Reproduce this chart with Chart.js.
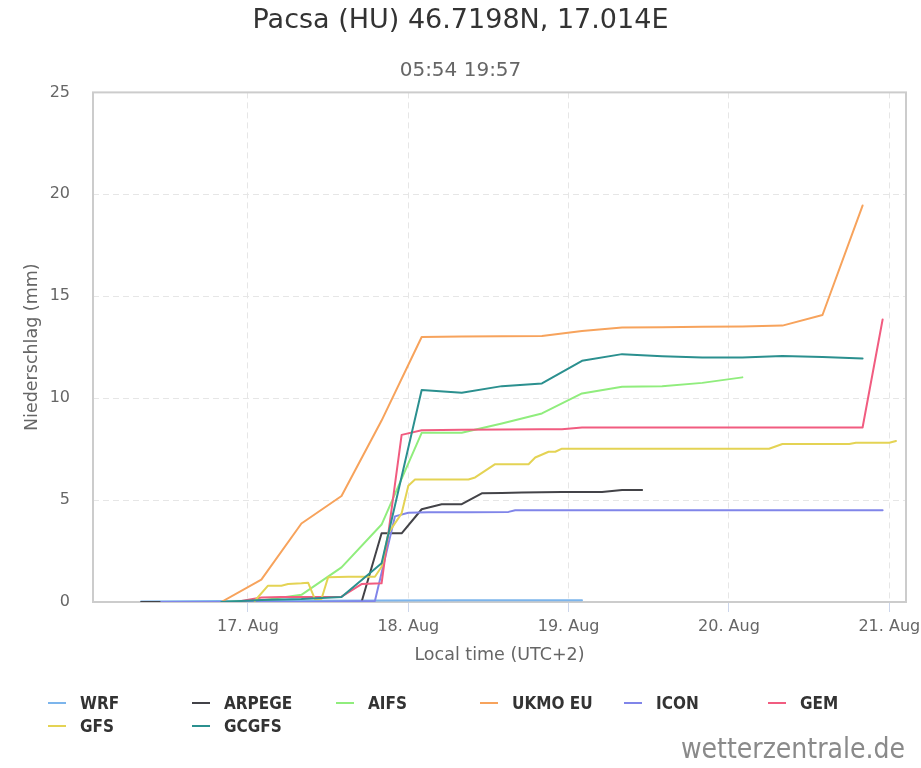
<!DOCTYPE html>
<html>
<head>
<meta charset="utf-8">
<title>Pacsa (HU) Niederschlag</title>
<script src="https://cdn.jsdelivr.net/npm/chart.js@4.4.0/dist/chart.umd.min.js"></script>
<style>
  html, body { margin: 0; padding: 0; background: #fff; overflow: hidden; }
  #wrap { position: relative; width: 921px; height: 768px; }
  #legend { position: absolute; left: 48px; top: 692px; width: 870px;
            font-family: "DejaVu Sans Condensed", "DejaVu Sans", sans-serif;
            font-weight: bold; font-size: 17px; color: #333; }
  .item { position: absolute; height: 22px; line-height: 22px; white-space: nowrap; }
  .item i { position: absolute; left: 0; top: 10px; width: 18px; height: 2px; }
  .item span { position: absolute; left: 32px; }
  #brand { position: absolute; right: 16px; top: 734px; line-height: 30px;
           font-family: "DejaVu Sans Condensed", "DejaVu Sans", sans-serif;
           font-size: 28px; color: #8a8a8a; }
</style>
</head>
<body>
<div id="wrap">
  <canvas id="rainChart" width="921" height="768"></canvas>
  <div id="legend"></div>
  <div id="brand">wetterzentrale.de</div>
</div>
<script>
// Stunden ab 16. Aug 00:00 Ortszeit, Niederschlag kumuliert in mm
const wrf = [[8, 0.03], [20, 0.05], [32, 0.06], [44, 0.07], [56, 0.08], [74, 0.08]];
const arpege = [[8, 0], [11, 0], [41, 0], [44, 3.37], [47, 3.37], [50, 4.55], [53, 4.8],
  [56, 4.8], [59, 5.33], [62, 5.35], [65, 5.37], [68, 5.39], [71, 5.4], [74, 5.4], [77, 5.4],
  [80, 5.49], [83, 5.49]];
const aifs = [[20, 0], [26, 0.08], [32, 0.35], [38, 1.7], [44, 3.8], [50, 8.3], [56, 8.3],
  [62, 8.76], [68, 9.25], [74, 10.23], [80, 10.56], [86, 10.58], [92, 10.75], [98, 11.02]];
const ukmo = [[20, 0], [26, 1.1], [32, 3.85], [38, 5.2], [44, 8.9], [50, 13.0], [56, 13.02],
  [62, 13.04], [68, 13.05], [74, 13.3], [80, 13.47], [86, 13.48], [92, 13.5], [98, 13.52],
  [104, 13.56], [110, 14.08], [116, 19.45]];
const icon = [[11, 0], [20, 0], [32, 0], [43, 0.05], [46, 4.2], [48, 4.38], [51, 4.4], [57, 4.4],
  [63, 4.42], [64, 4.5], [72, 4.5], [84, 4.5], [96, 4.5], [108, 4.5], [119, 4.5]];
const gem = [[23, 0.05], [26, 0.22], [29, 0.24], [32, 0.25], [35, 0.25], [38, 0.26], [41, 0.88],
  [44, 0.92], [47, 8.2], [50, 8.43], [56, 8.45], [62, 8.46], [68, 8.47], [71, 8.47], [74, 8.56],
  [80, 8.56], [92, 8.56], [104, 8.56], [116, 8.56], [119, 13.86]];
const gfs = [[25, 0.05], [27, 0.8], [29, 0.8], [30, 0.88], [32, 0.92], [33, 0.95], [34, 0.15],
  [35, 0.15], [36, 1.22], [39, 1.24], [43, 1.24], [44, 1.73], [45, 3.37], [47, 4.35], [48, 5.7],
  [49, 6.01], [57, 6.01], [58, 6.11], [61, 6.76], [66, 6.76], [67, 7.09], [69, 7.37], [70, 7.37],
  [71, 7.52], [102, 7.52], [104, 7.75], [114, 7.75], [115, 7.81], [120, 7.81], [121, 7.9]];
const gcgfs = [[20, 0], [26, 0.1], [32, 0.15], [38, 0.25], [44, 1.9], [50, 10.4], [56, 10.26],
  [62, 10.59], [68, 10.72], [74, 11.83], [80, 12.16], [86, 12.06], [92, 12.0], [98, 12.0],
  [104, 12.07], [110, 12.02], [116, 11.95]];

const modelNames = ['WRF', 'ARPEGE', 'AIFS', 'UKMO EU', 'ICON', 'GEM', 'GFS', 'GCGFS'];
const modelData = [wrf, arpege, aifs, ukmo, icon, gem, gfs, gcgfs];
const modelColors = ['#7cb5ec', '#434348', '#90ed7d', '#f7a35c', '#8085e9', '#f15c80', '#e4d354', '#2b908f'];

const dayTicks = [24, 48, 72, 96, 120];
const dayLabels = ['17. Aug', '18. Aug', '19. Aug', '20. Aug', '21. Aug'];
const mmTicks = [0, 5, 10, 15, 20, 25];

const FONT = '"DejaVu Sans", sans-serif';

// Rahmen um die Plotfläche
const plotBorder = {
    id: 'plotBorder',
    beforeDatasetsDraw(chart) {
        const { ctx, chartArea: a } = chart;
        ctx.save();
        ctx.strokeStyle = '#cccccc';
        ctx.lineWidth = 2;
        ctx.strokeRect(a.left, a.top, a.right - a.left, a.bottom - a.top);
        ctx.restore();
    }
};

document.addEventListener('DOMContentLoaded', () => {
    const datasets = modelNames.map((name, i) => ({
        label: name,
        data: modelData[i].map(p => ({ x: p[0], y: p[1] })),
        borderColor: modelColors[i],
        backgroundColor: modelColors[i],
        borderWidth: 2,
        pointRadius: 0,
        fill: false,
        tension: 0,
        borderJoinStyle: 'round',
        borderCapStyle: 'round',
        order: modelNames.length - i
    }));

    const ctx = document.getElementById('rainChart').getContext('2d');
    const chart = new Chart(ctx, {
        type: 'line',
        data: { datasets },
        plugins: [plotBorder],
        options: {
            responsive: false,
            animation: false,
            layout: { padding: { left: 15, right: 15, top: 0, bottom: 96 } },
            plugins: {
                legend: { display: false },
                tooltip: { enabled: false },
                title: {
                    display: true,
                    text: 'Pacsa (HU) 46.7198N, 17.014E',
                    color: '#333333',
                    font: { family: FONT, size: 27, weight: 'normal' },
                    padding: { top: 5, bottom: 21 }
                },
                subtitle: {
                    display: true,
                    text: '05:54 19:57',
                    color: '#666666',
                    font: { family: FONT, size: 20, weight: 'normal' },
                    padding: { top: 0, bottom: 10 }
                }
            },
            scales: {
                x: {
                    type: 'linear',
                    min: 0.8,
                    max: 122.5,
                    afterFit: s => { s.height = 70; s.paddingLeft = 0; s.paddingRight = 0; },
                    afterBuildTicks: s => { s.ticks = dayTicks.map(v => ({ value: v })); },
                    ticks: {
                        color: '#666666',
                        font: { family: FONT, size: 16 },
                        padding: 5,
                        maxRotation: 0,
                        callback: v => dayLabels[dayTicks.indexOf(v)]
                    },
                    grid: {
                        color: '#e6e6e6',
                        tickColor: '#ccd6eb',
                        tickLength: 10,
                        tickBorderDash: []
                    },
                    border: { display: false, dash: [6, 4] },
                    title: {
                        display: true,
                        text: 'Local time (UTC+2)',
                        color: '#666666',
                        font: { family: FONT, size: 17.5 },
                        padding: { top: 0, bottom: 6 }
                    }
                },
                y: {
                    min: 0,
                    max: 25,
                    afterFit: s => { s.width = 78; },
                    afterBuildTicks: s => { s.ticks = mmTicks.map(v => ({ value: v })); },
                    ticks: {
                        color: '#666666',
                        font: { family: FONT, size: 16 },
                        padding: 23
                    },
                    grid: { color: '#e6e6e6', drawTicks: false },
                    border: { display: false, dash: [6, 4] },
                    title: {
                        display: true,
                        text: 'Niederschlag (mm)',
                        color: '#666666',
                        font: { family: FONT, size: 17.5 },
                        padding: { top: 7, bottom: 0 }
                    }
                }
            }
        }
    });

    // Legende als HTML-Raster (6 Spalten)
    const legend = document.getElementById('legend');
    chart.data.datasets.forEach((ds, i) => {
        const item = document.createElement('div');
        item.className = 'item';
        item.style.left = (i % 6) * 144 + 'px';
        item.style.top = Math.floor(i / 6) * 23 + 'px';
        item.innerHTML = '<i style="background:' + ds.borderColor + '"></i><span>' + ds.label + '</span>';
        legend.appendChild(item);
    });
});
</script>
</body>
</html>
